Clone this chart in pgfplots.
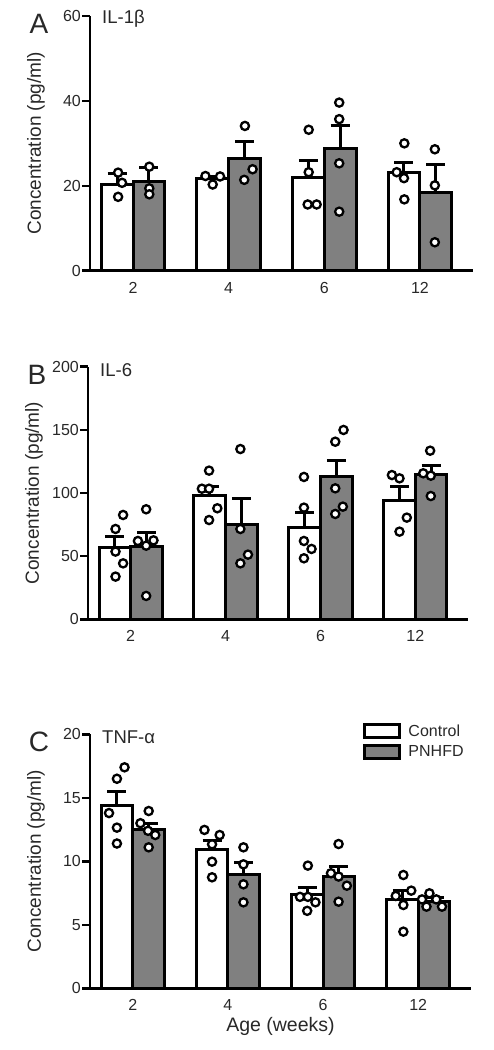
\documentclass[border=0pt]{standalone}
\usepackage{fontspec}
\setmainfont{Liberation Sans}
\usepackage{pgfplots}
\pgfplotsset{compat=1.18}
\definecolor{barg}{RGB}{128,128,128}
\definecolor{txt}{RGB}{40,40,40}
\tikzset{
  lett/.style={font=\fontsize{28bp}{30bp}\selectfont, text=txt, anchor=center, xshift=-51bp, yshift=-8bp},
  ttl/.style={font=\fontsize{18.5bp}{20bp}\selectfont, text=txt, anchor=west, inner sep=0pt, xshift=12bp, yshift=-3bp},
}
\pgfplotsset{
  panel/.style={
    scale only axis, width=382bp, height=254bp,
    xmin=-0.45, xmax=3.555, ymin=0,
    axis lines=left, axis line style={-, line width=2.5bp, black},
    xtick={0,1,2,3}, xticklabels={2,4,6,12},
    x tick style={draw=none},
    y tick style={line width=2.5bp, black},
    tick align=outside, major tick length=8bp,
    tick label style={font=\fontsize{16bp}{18bp}\selectfont, text=txt},
    yticklabel style={inner sep=1bp},
    /pgf/number format/assume math mode=true,
    every axis y label/.style={at={(rel axis cs:0,0.5)}, anchor=center, xshift=-54bp, rotate=90, font=\fontsize{19bp}{22bp}\selectfont, text=txt},
    ylabel={Concentration (pg/ml)},
    clip=false,
  },
  cbar/.style={ybar, bar width=0.333, bar shift=0pt, fill=white, draw=black, line width=3bp,
     error bars/y dir=plus, error bars/y explicit,
     error bars/error bar style={line width=3bp, black},
     error bars/error mark options={rotate=90, mark size=9.5bp, line width=3bp, black}},
  pbar/.style={cbar, fill=barg},
  pts/.style={only marks, mark=*, mark size=4.1bp, mark options={fill=white, draw=black, line width=2.3bp}},
}
\begin{document}
\begin{tikzpicture}
\useasboundingbox (0,0) rectangle (494bp,1050bp);
% ---------------- Panel A ----------------
\begin{axis}[panel, at={(90bp,779.3bp)}, anchor=south west, height=254.7bp, width=383bp,
  ymax=60, ytick={0,20,40,60}]
\addplot[cbar] table[x=x,y=y,y error=e] {
x y e
-0.1667 20.2 2.7
0.8333 21.6 0.7
1.8333 21.9 4.1
2.8333 23.1 2.5
};
\addplot[pbar] table[x=x,y=y,y error=e] {
x y e
0.1667 21.1 3.3
1.1667 26.5 3.9
2.1667 28.7 5.6
3.1667 18.5 6.4
};
\addplot[pts] table {
x y
-0.156 23.1
-0.115 20.7
-0.156 17.4
0.17 24.5
0.17 19.4
0.17 18.0
0.757 22.3
0.833 20.3
0.910 22.2
1.170 34.1
1.250 23.9
1.163 21.4
1.837 33.2
1.837 23.2
1.826 15.6
1.920 15.6
2.156 39.6
2.156 35.7
2.156 25.3
2.156 13.9
2.837 30.0
2.757 23.2
2.833 21.8
2.837 16.8
3.156 28.6
3.156 20.1
3.156 6.7
};
\node[lett] at (rel axis cs:0,1) {A};
\node[ttl] at (rel axis cs:0,1) {IL-1β};
\end{axis}
% ---------------- Panel B ----------------
\begin{axis}[panel, at={(88bp,430.7bp)}, anchor=south west, height=252.6bp, width=380bp,
  ymax=200, ytick={0,50,100,150,200}]
\addplot[cbar] table[x=x,y=y,y error=e] {
x y e
-0.1667 56.7 8.7
0.8333 97.9 7.6
1.8333 72.8 11.6
2.8333 93.7 11.6
};
\addplot[pbar] table[x=x,y=y,y error=e] {
x y e
0.1667 57.3 11.6
1.1667 75.2 20.6
2.1667 112.9 13.2
3.1667 115.0 6.9
};
\addplot[pts] table {
x y
-0.08 82.6
-0.16 71.5
-0.16 53.6
-0.08 44.3
-0.16 33.8
0.163 87.1
0.076 62.0
0.240 62.5
0.163 58.3
0.163 18.5
0.826 117.7
0.750 103.4
0.826 103.4
0.913 87.9
0.826 78.6
1.156 134.8
1.156 71.5
1.236 51.2
1.156 44.3
1.826 112.7
1.826 88.4
1.826 62.0
1.906 55.7
1.826 48.3
2.243 149.9
2.156 140.6
2.156 103.7
2.236 89.2
2.156 83.4
2.753 114.2
2.833 111.6
2.910 80.5
2.833 69.4
3.156 133.5
3.083 115.6
3.163 113.7
3.163 97.6
};
\node[lett] at (rel axis cs:0,1) {B};
\node[ttl] at (rel axis cs:0,1) {IL-6};
\end{axis}
% ---------------- Panel C ----------------
\begin{axis}[panel, at={(90bp,61.7bp)}, anchor=south west, height=254bp, width=381bp,
  ymax=20, ytick={0,5,10,15,20},
  xlabel={Age (weeks)},
  every axis x label/.style={at={(rel axis cs:0.5,0)}, anchor=center, yshift=-37.7bp, font=\fontsize{19.5bp}{22bp}\selectfont, text=txt},
  legend style={at={(rel axis cs:0.7165,1.045)}, anchor=north west, draw=none, fill=none,
    font=\fontsize{16bp}{18bp}\selectfont, text=txt, row sep=5bp, column sep=6bp, inner sep=0pt,
    nodes={inner sep=1.5bp}},
  legend cell align=left]
\addlegendimage{legend image code/.code={\draw[fill=white, draw=black, line width=2.8bp] (0bp,-6.5bp) rectangle (35bp,6.5bp);}}
\addlegendentry{Control}
\addlegendimage{legend image code/.code={\draw[fill=barg, draw=black, line width=2.8bp] (0bp,-6.5bp) rectangle (35bp,6.5bp);}}
\addlegendentry{PNHFD}
\addplot[cbar, forget plot] table[x=x,y=y,y error=e] {
x y e
-0.1667 14.36 1.14
0.8333 10.94 0.66
1.8333 7.35 0.6
2.8333 7.0 0.7
};
\addplot[pbar, forget plot] table[x=x,y=y,y error=e] {
x y e
0.1667 12.5 0.5
1.1667 8.98 0.92
2.1667 8.79 0.79
3.1667 6.82 0.3
};
\addplot[pts, forget plot] table {
x y
-0.087 17.4
-0.167 16.5
-0.250 13.8
-0.167 12.65
-0.167 11.4
0.167 13.96
0.080 13.0
0.160 12.4
0.236 12.07
0.167 11.1
0.753 12.47
0.913 12.07
0.833 11.34
0.833 9.97
0.833 8.74
1.163 11.1
1.163 9.76
1.163 8.19
1.163 6.77
1.840 9.66
1.757 7.2
1.840 7.2
1.920 6.77
1.833 6.1
2.163 11.36
2.083 9.06
2.163 8.8
2.250 8.08
2.163 6.82
2.844 8.92
2.764 7.27
2.927 7.69
2.844 6.56
2.844 4.46
3.118 7.48
3.040 7.0
3.190 7.0
3.087 6.43
3.250 6.43
};
\node[lett] at (rel axis cs:0,1) {C};
\node[ttl] at (rel axis cs:0,1) {TNF-α};
\end{axis}
\end{tikzpicture}
\end{document}
